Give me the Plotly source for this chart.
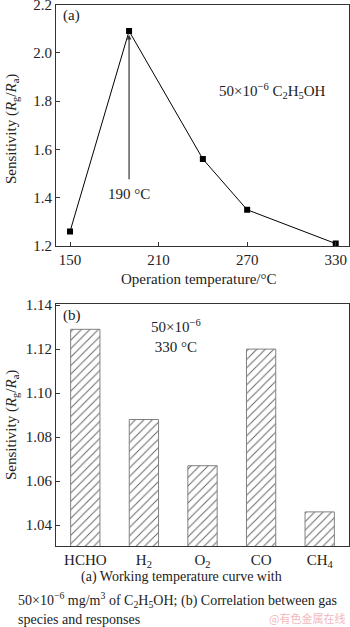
import plotly.graph_objects as go

# Panel (a): working temperature curve
temps = [150, 190, 240, 270, 330]
sens_a = [1.26, 2.09, 1.56, 1.35, 1.21]
xticks_a = [150, 210, 270, 330]
yticks_a = [1.2, 1.4, 1.6, 1.8, 2.0, 2.2]

# Panel (b): gas species responses
gases = ["HCHO", "H<sub>2</sub>", "O<sub>2</sub>", "CO", "CH<sub>4</sub>"]
sens_b = [1.129, 1.088, 1.067, 1.120, 1.046]
yticks_b = [1.04, 1.06, 1.08, 1.10, 1.12, 1.14]

FONT = "Liberation Serif"
W, H = 350, 627

def py(px):
    return 1 - px / H

fig = go.Figure()

fig.add_trace(go.Scatter(
    x=temps, y=sens_a, mode="lines+markers",
    line=dict(color="black", width=1),
    marker=dict(symbol="square", size=6, color="black"),
    xaxis="x", yaxis="y", showlegend=False, hoverinfo="skip"))

fig.add_trace(go.Bar(
    x=gases, y=sens_b, width=0.5,
    marker=dict(color="white",
                line=dict(color="#808080", width=1),
                pattern=dict(shape="/", fgcolor="#666666", bgcolor="white",
                             size=6, solidity=0.16)),
    xaxis="x2", yaxis="y2", showlegend=False, hoverinfo="skip"))

axis_common = dict(showline=True, linecolor="#333", linewidth=1.2, mirror=True,
                   ticks="inside", ticklen=4, tickcolor="#333", showgrid=False,
                   zeroline=False, automargin=False, ticklabeloverflow="allow",
                   tickfont=dict(family=FONT, size=15, color="#222"))

fig.update_layout(
    template="none",
    width=W, height=H, margin=dict(l=0, r=0, t=0, b=0, pad=0),
    paper_bgcolor="white", plot_bgcolor="white",
    xaxis=dict(domain=[56 / W, 349 / W], range=[140.5, 339], tickvals=xticks_a,
               anchor="y", **axis_common),
    yaxis=dict(domain=[py(246), py(4.5)], range=[1.2, 2.2], tickvals=yticks_a,
               tickformat=".1f", anchor="x", **axis_common),
    xaxis2=dict(domain=[56 / W, 349 / W], range=[-0.5, 4.5], anchor="y2",
                **{**axis_common, "ticks": ""}),
    yaxis2=dict(domain=[py(546), py(304)], range=[1.0305, 1.1405], tickvals=yticks_b,
                tickformat=".2f", anchor="x2", **axis_common),
)

txt = dict(family=FONT, size=15, color="#222")
cap = dict(family=FONT, size=14, color="#222")
ytitle = "Sensitivity (<i>R</i><sub>g</sub>/<i>R</i><sub>a</sub>)"
ann = [
    dict(text=ytitle, x=12 / W, y=py(129), xref="paper", yref="paper",
         textangle=-90, showarrow=False, font=txt, xanchor="center", yanchor="middle"),
    dict(text=ytitle, x=12 / W, y=py(425), xref="paper", yref="paper",
         textangle=-90, showarrow=False, font=txt, xanchor="center", yanchor="middle"),
    dict(text="Operation temperature/°C", x=199 / W, y=py(279), xref="paper",
         yref="paper", showarrow=False, font=txt, xanchor="center", yanchor="middle"),
    dict(text="(a)", x=61 / W, y=py(15), xref="paper", yref="paper",
         xanchor="left", yanchor="middle", showarrow=False, font=txt),
    dict(text="(b)", x=61 / W, y=py(315), xref="paper", yref="paper",
         xanchor="left", yanchor="middle", showarrow=False, font=txt),
    dict(text="50×10<sup>−6</sup> C<sub>2</sub>H<sub>5</sub>OH", x=287, y=1.84,
         xref="x", yref="y", showarrow=False, font=txt),
    dict(text="190 °C", x=190, y=1.415, xref="x", yref="y", showarrow=False, font=txt),
    dict(text="", x=190, y=2.075, ax=190, ay=1.47, xref="x", yref="y",
         axref="x", ayref="y", showarrow=True, arrowhead=2, arrowsize=0.8,
         arrowwidth=1.2, arrowcolor="#333"),
    dict(text="50×10<sup>−6</sup><br>330 °C", x=1.55, y=1.126, xref="x2", yref="y2",
         showarrow=False, font=txt, align="center"),
    dict(text="(a) Working temperature curve with", x=181 / W, y=py(577),
         xref="paper", yref="paper", showarrow=False, xanchor="center",
         yanchor="middle", font=cap),
    dict(text="50×10<sup>−6</sup> mg/m<sup>3</sup> of C<sub>2</sub>H<sub>5</sub>OH; (b) Correlation between gas",
         x=16 / W, y=py(600), xref="paper", yref="paper", showarrow=False,
         xanchor="left", yanchor="middle", font=cap),
    dict(text="species and responses", x=16 / W, y=py(619), xref="paper", yref="paper",
         showarrow=False, xanchor="left", yanchor="middle", font=cap),
    dict(text="@有色金属在线", x=347 / W, y=py(618), xref="paper", yref="paper",
         showarrow=False, xanchor="right", yanchor="middle",
         font=dict(family="Noto Sans CJK SC", size=11, color="#f2b8bd")),
]
fig.update_layout(annotations=ann)

fig.write_html("out.html")
